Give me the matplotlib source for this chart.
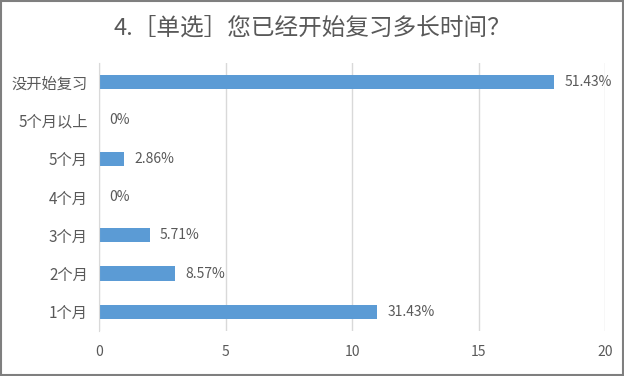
import matplotlib.pyplot as plt
from matplotlib.patches import Rectangle

plt.rcParams['font.family'] = ['Noto Sans CJK SC', 'DejaVu Sans']

categories = ["1个月", "2个月", "3个月", "4个月", "5个月", "5个月以上", "没开始复习"]
counts = [11, 3, 2, 0, 1, 0, 18]
pct_labels = ["31.43%", "8.57%", "5.71%", "0%", "2.86%", "0%", "51.43%"]
x_ticks = [0, 5, 10, 15, 20]
title = "4.［单选］您已经开始复习多长时间？"

text_color = "#595959"
bar_color = "#5B9BD5"

fig = plt.figure(figsize=(6.24, 3.76), dpi=100)
ax = fig.add_axes([0.1587, 0.1197, 0.811, 0.7128])

ypos = range(len(categories))
ax.barh(ypos, counts, height=0.37, color=bar_color)
for y, c, lab in zip(ypos, counts, pct_labels):
    ax.text(c + 0.4, y, lab, va="center", ha="left", fontsize=10, color=text_color)

ax.set_xlim(0, 20)
ax.set_ylim(-0.5, len(categories) - 0.5)
ax.set_xticks(x_ticks)
ax.set_yticks(list(ypos))
ax.set_yticklabels(categories, fontsize=11)
ax.tick_params(axis="both", length=0, colors=text_color)
ax.tick_params(axis="x", pad=10, labelsize=10)
ax.tick_params(axis="y", pad=8)
ax.grid(axis="x", color="#D9D9D9", linewidth=1)
ax.set_axisbelow(True)
for s in ["top", "right", "bottom"]:
    ax.spines[s].set_visible(False)
ax.spines["left"].set_color("#D9D9D9")

fig.text(0.5, 0.925, title, ha="center", va="center", fontsize=17, color=text_color)

fig.patches.append(Rectangle((0.002, 0.003), 0.996, 0.994, transform=fig.transFigure,
                             fill=False, edgecolor="#7F7F7F", linewidth=1.5))

fig.savefig("out.png", dpi=100)
